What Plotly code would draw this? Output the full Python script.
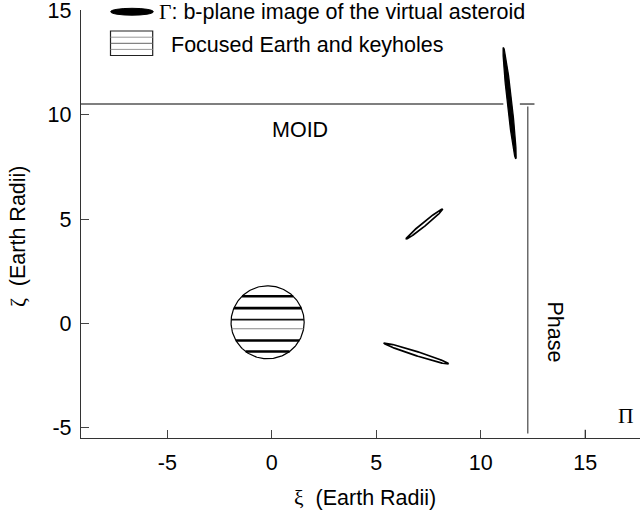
import numpy as np
import plotly.graph_objects as go

# ---- data ----
x_range = [-9.13, 17.62]
y_range = [-5.5, 15.03]
tick_vals = [-5, 0, 5, 10, 15]
tick_text = ["-5", "0", "5", "10", "15"]

# virtual asteroid images (centre xi, centre zeta, semi-major, semi-minor, angle deg)
ell_xi = [11.38, 7.31, 6.92]
ell_zeta = [10.56, 4.77, -1.45]
ell_a = [2.69, 1.13, 1.62]
ell_b = [0.11, 0.09, 0.10]
ell_ang = [-83.7, 39.3, -17.8]
ell_filled = [True, False, False]

# focused Earth
earth_xi = -0.2
earth_zeta = 0.05
earth_r = 1.75
keyhole_zeta = [1.30, 0.73, 0.18, -0.26, -0.82, -1.35]
keyhole_width = [2.6, 2.6, 1.6, 1.0, 2.6, 2.6]
keyhole_color = ["#000", "#000", "#111", "#888", "#000", "#000"]

# MOID and phase lines
moid_zeta = 10.52
moid_xi_end = 11.08
phase_xi = 12.25
phase_cap = [11.87, 12.57]
phase_zeta = [10.4, -5.29]
pi_tick_xi = 15.0

FONT = "Liberation Sans, Arial, Helvetica, sans-serif"
SERIF = "Liberation Serif, Times New Roman, serif"
FS = 21.5


def ellipse(xc, yc, a, b, ang, n=160):
    t = np.linspace(0, 2 * np.pi, n)
    th = np.deg2rad(ang)
    x = xc + a * np.cos(t) * np.cos(th) - b * np.sin(t) * np.sin(th)
    y = yc + a * np.cos(t) * np.sin(th) + b * np.sin(t) * np.cos(th)
    return x, y


fig = go.Figure()

# MOID line
fig.add_trace(go.Scatter(x=[x_range[0], moid_xi_end], y=[moid_zeta, moid_zeta], mode="lines",
                         line=dict(color="#555", width=1.3), hoverinfo="skip", showlegend=False))
# phase line + cap
fig.add_trace(go.Scatter(x=phase_cap, y=[moid_zeta, moid_zeta], mode="lines",
                         line=dict(color="#333", width=1.3), hoverinfo="skip", showlegend=False))
fig.add_trace(go.Scatter(x=[phase_xi, phase_xi], y=phase_zeta, mode="lines",
                         line=dict(color="#555", width=1.3), hoverinfo="skip", showlegend=False))

# Earth circle
t = np.linspace(0, 2 * np.pi, 200)
fig.add_trace(go.Scatter(x=earth_xi + earth_r * np.cos(t), y=earth_zeta + earth_r * np.sin(t),
                         mode="lines", line=dict(color="#000", width=1.2), fill="toself",
                         fillcolor="white", hoverinfo="skip", showlegend=False))
for z, w, c in zip(keyhole_zeta, keyhole_width, keyhole_color):
    dz = z - earth_zeta
    half = np.sqrt(max(earth_r ** 2 - dz ** 2, 0))
    fig.add_trace(go.Scatter(x=[earth_xi - half, earth_xi + half], y=[z, z], mode="lines",
                             line=dict(color=c, width=w), hoverinfo="skip", showlegend=False))

# asteroid images
for xc, yc, a, b, ang, filled in zip(ell_xi, ell_zeta, ell_a, ell_b, ell_ang, ell_filled):
    ex, ey = ellipse(xc, yc, a, b, ang)
    fig.add_trace(go.Scatter(x=ex, y=ey, mode="lines", fill="toself",
                             fillcolor="black" if filled else "white",
                             line=dict(color="black", width=1.3 if filled else 1.7),
                             hoverinfo="skip", showlegend=False))

# ---- layout ----
L, T, B = 81, 10, 81
W, H = 640, 519
pw, ph = W - L, H - T - B


def px(xp):
    return (xp - L) / pw


def py(yp):
    return (H - B - yp) / ph


shapes = [
    # legend ellipse
    dict(type="circle", xref="paper", yref="paper", x0=px(110.7), x1=px(153.3),
         y0=py(15.2), y1=py(8.3), fillcolor="black", line=dict(color="black", width=1)),
    # legend hatched box
    dict(type="rect", xref="paper", yref="paper", x0=px(110.5), x1=px(152.7),
         y0=py(55.5), y1=py(31), fillcolor="white", line=dict(color="#222", width=1.2)),
    # Pi tick
    dict(type="line", xref="x", yref="y", x0=pi_tick_xi, x1=pi_tick_xi, y0=y_range[0],
         y1=y_range[0] + 0.4, line=dict(color="#333", width=1.2)),
]
for yy, cc in [(37.2, "#999"), (43.3, "#666"), (49.4, "#999")]:
    shapes.append(dict(type="line", xref="paper", yref="paper", x0=px(110.5), x1=px(152.7),
                       y0=py(yy), y1=py(yy), line=dict(color=cc, width=1)))

annotations = [
    dict(text="<span style='font-family:Liberation Serif'>Γ</span>: b-plane image of the virtual asteroid",
         xref="paper", yref="paper", x=px(157), y=py(12.0), xanchor="left", yanchor="middle",
         showarrow=False, font=dict(family=FONT, size=FS, color="black")),
    dict(text="Focused Earth and keyholes",
         xref="paper", yref="paper", x=px(169), y=py(44.5), xanchor="left", yanchor="middle",
         showarrow=False, font=dict(family=FONT, size=FS, color="black")),
    dict(text="MOID", xref="x", yref="y", x=1.36, y=9.29, showarrow=False,
         font=dict(family=FONT, size=FS, color="black")),
    dict(text="Phase", xref="x", yref="y", x=13.56, y=-0.40, textangle=90, showarrow=False,
         font=dict(family=FONT, size=FS, color="black")),
    dict(text="Π", xref="x", yref="y", x=16.96, y=-4.43, showarrow=False,
         font=dict(family=SERIF, size=FS, color="black")),
    dict(text="<span style='font-family:Liberation Serif'>ξ</span>  (Earth Radii)",
         xref="paper", yref="paper", x=px(365), y=py(498), showarrow=False,
         xanchor="center", yanchor="middle", font=dict(family=FONT, size=FS, color="black")),
    dict(text="<span style='font-family:Liberation Serif'>ζ</span>  (Earth Radii)",
         xref="paper", yref="paper", x=px(18), y=py(236), showarrow=False, textangle=-90,
         xanchor="center", yanchor="middle", font=dict(family=FONT, size=FS, color="black")),
]

axis_common = dict(showgrid=False, zeroline=False, showline=True, linecolor="#333", linewidth=1.4,
                   ticks="inside", ticklen=8, tickwidth=1.2, tickcolor="#444", mirror=False,
                   tickfont=dict(family=FONT, size=FS, color="black"),
                   ticklabeloverflow="allow",
                   tickvals=tick_vals, ticktext=tick_text)

fig.update_layout(
    width=W, height=H,
    margin=dict(l=L, r=0, t=T, b=B, pad=0),
    paper_bgcolor="white", plot_bgcolor="white",
    xaxis=dict(range=x_range, ticklabelstandoff=5, **axis_common),
    yaxis=dict(range=y_range, ticklabelstandoff=4, **axis_common),
    shapes=shapes, annotations=annotations, showlegend=False,
)

fig.write_html("out.html")
